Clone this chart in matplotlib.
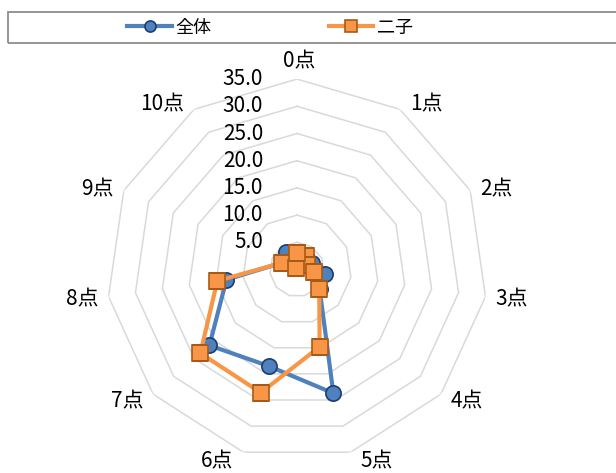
import numpy as np
import matplotlib.pyplot as plt
from matplotlib.transforms import offset_copy
from matplotlib.patches import Rectangle
from matplotlib.lines import Line2D

plt.rcParams['font.family'] = ['Noto Sans CJK JP', 'DejaVu Sans']

categories = ['0点', '1点', '2点', '3点', '4点', '5点', '6点', '7点', '8点', '9点', '10点']
zentai = [3.0, 3.0, 3.0, 5.2, 5.5, 23.7, 18.5, 21.3, 13.1, 3.0, 3.8]
futago = [3.0, 3.0, 2.0, 3.1, 5.4, 14.8, 23.6, 23.5, 14.8, 3.0, 0.4]
series_names = ['全体', '二子']
rticks = [5, 10, 15, 20, 25, 30, 35]

W, H = 616, 473
fig = plt.figure(figsize=(W / 100, H / 100), dpi=100)

# polar axes placed so the chart centre sits where it does in the reference
cx, cy, R = 297, 269.5, 190.4
ax = fig.add_axes([(cx - R) / W, 1 - (cy + R) / H, 2 * R / W, 2 * R / H], projection='polar')
ax.set_theta_zero_location('N')
ax.set_theta_direction(-1)
ax.set_ylim(0, 35)
ax.grid(False)
ax.spines['polar'].set_visible(False)
ax.set_xticks([])
ax.set_yticks([])

n = len(categories)
theta = np.arange(n) * 2 * np.pi / n
theta_c = np.append(theta, theta[0])

# polygon grid
for r in rticks:
    ax.plot(theta_c, [r] * (n + 1), color='#d9d9d9', lw=1.1, zorder=1)

blue = '#4f81bd'
orange = '#f79646'
ax.plot(theta_c, zentai + zentai[:1], color=blue, lw=3.0, marker='o', ms=11,
        mfc=blue, mec='#1c3d73', mew=1.2, zorder=3)
ax.plot(theta_c, futago + futago[:1], color=orange, lw=3.0, marker='s', ms=12,
        mfc=orange, mec='#a85a14', mew=1.2, zorder=4)

# radial tick labels to the left of the 0点 spoke
tr = offset_copy(ax.transData, fig=fig, x=-34, y=0, units='dots')
for r in rticks:
    ax.text(0, r, f'{r:.1f}', transform=tr, ha='right', va='center', fontsize=15)

# category labels outside the outer polygon
for t, lab in zip(theta, categories):
    s, c = np.sin(t), np.cos(t)
    if abs(s) < 0.1:
        trc = offset_copy(ax.transData, fig=fig, x=2, y=7, units='dots')
        ax.text(t, 35, lab, transform=trc, ha='center', va='bottom', fontsize=15)
    else:
        trc = offset_copy(ax.transData, fig=fig, x=10 * np.sign(s), y=8 * c - 2, units='dots')
        ax.text(t, 35, lab, transform=trc, ha='left' if s > 0 else 'right',
                va='center', fontsize=15)

# legend with a frame running off the right edge
handles = [
    Line2D([], [], color=blue, lw=3.0, marker='o', ms=8, mfc=blue, mec='#1c3d73', mew=1.2),
    Line2D([], [], color=orange, lw=3.0, marker='s', ms=8, mfc=orange, mec='#a85a14', mew=1.2),
]
fig.legend(handles, series_names, loc='center', bbox_to_anchor=(270 / W, 1 - 27.5 / H),
           ncol=2, frameon=False, fontsize=13, handlelength=2.45, handletextpad=0.2,
           columnspacing=6.5, borderpad=0)
fig.add_artist(Rectangle((8 / W, 1 - 43 / H), (630 - 8) / W, 31 / H, transform=fig.transFigure,
                         fill=False, ec='#8c8c8c', lw=1.3))

fig.savefig('out.png', dpi=100)
